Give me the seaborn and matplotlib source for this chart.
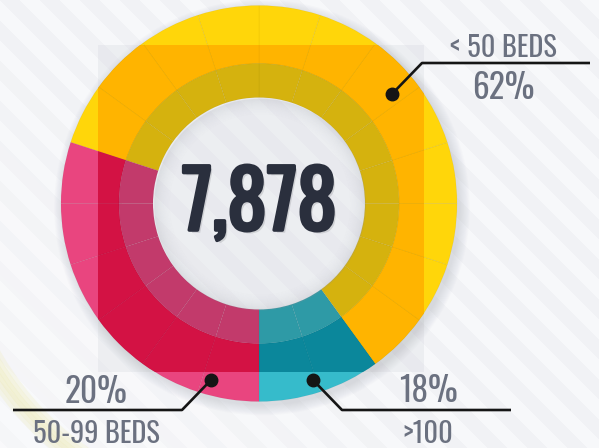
import numpy as np
import pandas as pd
import matplotlib
matplotlib.use('Agg')
import matplotlib.pyplot as plt
import matplotlib.patches as mpatches
import matplotlib.patheffects as pe
from matplotlib import font_manager as fm
from matplotlib.transforms import Bbox, TransformedBbox
import seaborn as sns

sns.set_theme(style='white')
avail = {f.name for f in fm.fontManager.ttflist}
prefs = ['Oswald', 'Bebas Neue', 'Fjalla One', 'Roboto Condensed', 'Barlow Condensed',
         'Archivo Narrow', 'PT Sans Narrow', 'Liberation Sans Narrow', 'DejaVu Sans']
FONT = next(p for p in prefs if p in avail)
plt.rcParams['font.family'] = [FONT, 'DejaVu Sans']

# ---- data ----
total_beds = '7,878'
categories = ['>100', '< 50 BEDS', '50-99 BEDS']
label_pct = [18, 62, 20]
ring_units = [2, 12, 6]          # ring is drawn as 20 equal tiles (18 deg each)

outer_hex = ['#36BBCB', '#FFD60A', '#E9457F']
square_hex = ['#0B879B', '#FFB400', '#D31244']
band_hex = ['#2E9AA6', '#D5B20E', '#C23A6B']

# ---- layout (pixel units, y measured from the top) ----
W, H = 599, 448
cx, cy = 259, H - 203.5
R_OUT, R_MID, R_IN = 198, 140, 106
SQ = (98, 45, 424, 372)
TXT = '#6B7180'
NAVY = '#2A2F3D'

tiles = pd.DataFrame({'cat': np.repeat(categories, ring_units)})
tiles['size'] = 1.0
cmap_outer = dict(zip(categories, sns.color_palette(outer_hex)))
cmap_square = dict(zip(categories, sns.color_palette(square_hex)))
cmap_band = dict(zip(categories, sns.color_palette(band_hex)))

fig = plt.figure(figsize=(W / 100, H / 100), dpi=100)
ax = fig.add_axes([0, 0, 1, 1])

# striped background
yy, xx = np.mgrid[0:H, 0:W]
stripe = ((xx - yy) // 20) % 2
base = np.array([0xF1, 0xF2, 0xF5]) / 255
light = np.array([0xF7, 0xF8, 0xFA]) / 255
bg = np.where(stripe[..., None] == 1, light, base)
fade = np.clip(1 - (xx + (H - yy)) / 500, 0, 1)[..., None] * 0.5
bg = bg * (1 - fade) + np.array([0.985, 0.985, 0.99]) * fade
ax.imshow(bg, extent=(0, W, 0, H), origin='upper', zorder=0, interpolation='bilinear')

# faint yellow glow bottom-left
for i, a in enumerate([0.25, 0.4, 0.55, 0.55, 0.4, 0.25]):
    r = 300 + i * 4
    ax.add_patch(mpatches.Arc((cx, cy), 2 * r, 2 * r, theta1=198, theta2=250,
                              color='#EEEBB8', lw=3.2, alpha=a, zorder=0.5))

# translucent square
ax.add_patch(mpatches.Rectangle((SQ[0], H - SQ[3]), SQ[2] - SQ[0], SQ[3] - SQ[1],
                                facecolor='#D5D7DE', alpha=0.3, lw=0, zorder=1))

# drop shadow around donut (annuli only, the hole stays light)
for i in range(12):
    r = R_OUT + i * 0.9
    ax.add_patch(mpatches.Wedge((cx + 3, cy - 4), r, 0, 360, width=r - R_MID,
                                color='#40444F', alpha=0.013, lw=0, zorder=2))

edge = dict(edgecolor=(0, 0, 0, 0.045), linewidth=0.5)


def ring(colors, radius, width):
    w, _ = ax.pie(tiles['size'], colors=tiles['cat'].map(colors), radius=radius,
                  center=(cx, cy), startangle=-90, counterclock=True,
                  wedgeprops=dict(width=width, **edge))
    return w


for w in ring(cmap_outer, R_OUT, R_OUT - R_MID):
    w.set_zorder(3)
clip_box = TransformedBbox(Bbox.from_extents(SQ[0], H - SQ[3], SQ[2], H - SQ[1]),
                           ax.transData)
for w in ring(cmap_square, R_OUT, R_OUT - R_MID):
    w.set_zorder(3.1)
    w.set_clip_path(None)
    w.set_clip_box(clip_box)
    w.set_clip_on(True)
for w in ring(cmap_band, R_MID, R_MID - R_IN):
    w.set_zorder(3.2)

# shadow inside the hole
for i in range(18):
    ax.add_patch(mpatches.Wedge((cx + 1, cy - 1), R_IN - i, 0, 360, width=1.2,
                                color='#8E929C', alpha=0.15 * (1 - i / 18) ** 2,
                                lw=0, zorder=4))

ax.text(cx + 0.5, H - 230, total_beds, ha='center', va='baseline', fontsize=57,
        color=NAVY, zorder=6,
        path_effects=[pe.withSimplePatchShadow(offset=(2, -2), alpha=0.12),
                      pe.Stroke(linewidth=2.6, foreground=NAVY),
                      pe.Normal()])

# labels with leader lines
lab = {categories[1]: dict(name_y=57, pct_y=99, x=503,
                           line=[(392, 94), (422, 63), (590, 63)]),
       categories[2]: dict(name_y=443, pct_y=403, x=96,
                           line=[(211, 380), (182, 410), (13, 410)]),
       categories[0]: dict(name_y=443, pct_y=402, x=428,
                           line=[(313, 380), (342, 410), (511, 410)])}
for cat, pct in zip(categories, label_pct):
    d = lab[cat]
    xs = [p[0] for p in d['line']]
    ys = [H - p[1] for p in d['line']]
    ax.plot(xs, ys, color='#151515', lw=1.9, solid_capstyle='butt', zorder=7)
    ax.plot(xs[0], ys[0], 'o', color='#151515', ms=9, zorder=8)
    ax.text(d['x'], H - d['name_y'], cat, ha='center', va='baseline',
            fontsize=20.5, color=TXT, zorder=7)
    ax.text(d['x'], H - d['pct_y'], f'{pct}%', ha='center', va='baseline',
            fontsize=24, color=TXT, zorder=7)

ax.set_xlim(0, W)
ax.set_ylim(0, H)
ax.set_aspect('auto')
ax.axis('off')
fig.savefig('out.png', dpi=100)
